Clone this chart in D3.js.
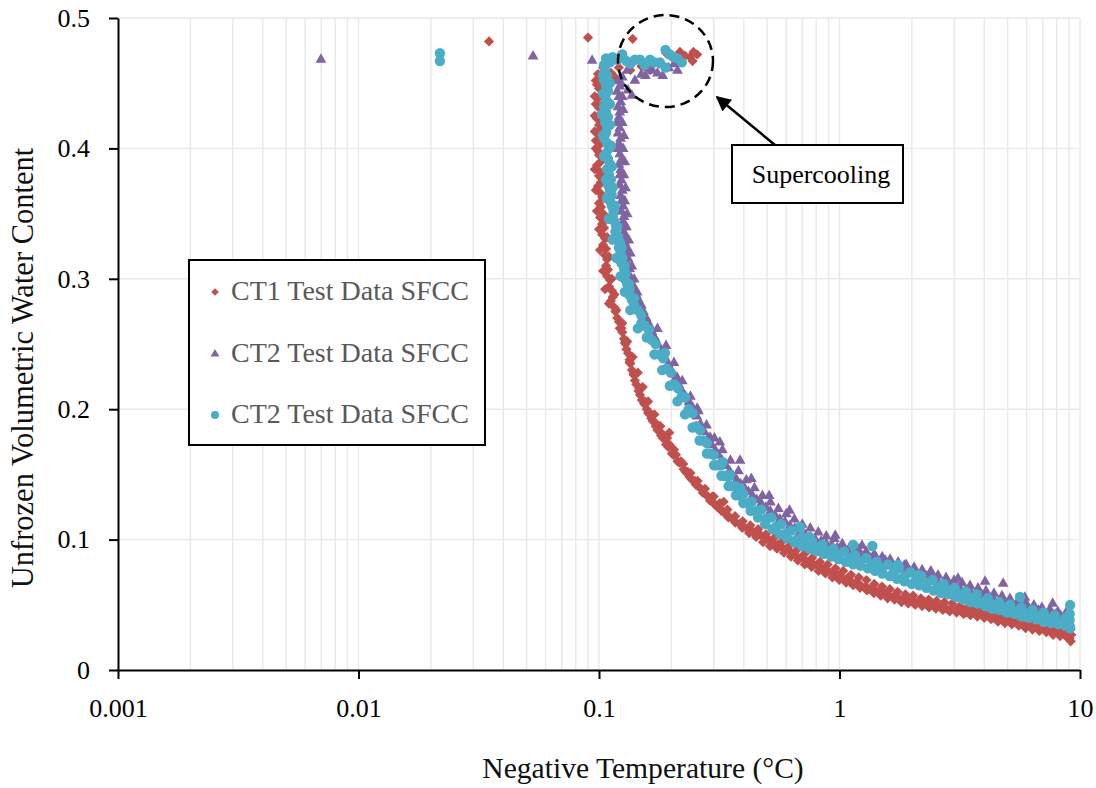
<!DOCTYPE html>
<html><head><meta charset="utf-8">
<script src="https://cdn.jsdelivr.net/npm/d3@7"></script>
<style>
html,body{margin:0;padding:0;background:#fff;}
svg{display:block;font-family:"Liberation Serif","Times New Roman",serif;}
</style></head><body><svg id="chart" width="1096" height="788"></svg>
<script>
// Soil freezing characteristic curves: [negative temperature (°C), unfrozen volumetric water content]
const ct1Data = [
  [0.0349,0.482],[0.0900,0.485],[0.138,0.484],
  [0.190,0.473],[0.217,0.474],[0.239,0.470],[0.256,0.472],[0.245,0.467],[0.228,0.471],[0.247,0.474],[0.205,0.469],
  [0.104,0.462],[0.112,0.458],[0.121,0.462],[0.135,0.460],[0.150,0.463],[0.163,0.460],[0.178,0.465],[0.116,0.455],
  [0.099,0.457],[0.101,0.453],[0.098,0.449],[0.100,0.446],[0.102,0.441],[0.099,0.438],[0.097,0.434],[0.100,0.431],
  [0.101,0.426],[0.098,0.423],[0.100,0.418],[0.102,0.415],[0.099,0.411],[0.097,0.406],[0.101,0.403],[0.099,0.398],
  [0.100,0.395],[0.102,0.390],[0.098,0.387],[0.101,0.382],[0.100,0.379],[0.102,0.374],[0.099,0.371],[0.101,0.366],
  [0.103,0.363],[0.100,0.358],[0.102,0.355],[0.104,0.350],[0.101,0.347],[0.103,0.342],[0.105,0.339],[0.103,0.334],
  [0.106,0.331],[0.104,0.326],[0.107,0.323],[0.106,0.318],[0.108,0.315],[0.107,0.310],[0.109,0.307],[0.108,0.302],
  [0.111,0.299],[0.110,0.294],[0.113,0.291],[0.114,0.286],[0.112,0.283],[0.116,0.278],[0.117,0.275],[0.119,0.270],
  [0.121,0.267],[0.122,0.262],[0.125,0.259],[0.127,0.254],[0.128,0.251],[0.130,0.246],[0.132,0.243],[0.134,0.238],
  [0.135,0.235],[0.137,0.230],[0.139,0.227],[0.141,0.222],[0.143,0.219],[0.146,0.214],[0.148,0.211],[0.151,0.207],
  [0.154,0.204],[0.158,0.200],[0.160,0.197],[0.165,0.193],[0.167,0.191],[0.172,0.187],[0.175,0.184],[0.181,0.180],
  [0.184,0.178],[0.190,0.173],[0.194,0.171],[0.201,0.166],[0.204,0.165],[0.212,0.160],[0.216,0.159],[0.225,0.154],
  [0.229,0.152],[0.238,0.148],[0.243,0.146],[0.253,0.142],[0.258,0.141],[0.270,0.136],[0.276,0.135],[0.289,0.130],
  [0.296,0.129],[0.310,0.125],[0.318,0.124],[0.334,0.120],[0.342,0.119],[0.359,0.116],[0.368,0.114],[0.385,0.112],
  [0.398,0.110],[0.414,0.108],[0.431,0.107],[0.448,0.104],[0.467,0.104],[0.487,0.101],[0.506,0.100],[0.530,0.097],
  [0.552,0.096],[0.578,0.094],[0.601,0.092],[0.630,0.090],[0.655,0.088],[0.688,0.086],[0.716,0.085],[0.750,0.082],
  [0.783,0.081],[0.821,0.079],[0.857,0.078],[0.897,0.076],[0.936,0.074],[0.981,0.073],[1.025,0.071],[1.074,0.070],
  [1.120,0.068],[1.176,0.067],[1.224,0.065],[1.289,0.064],[1.340,0.062],[1.409,0.061],[1.470,0.060],[1.541,0.059],
  [1.612,0.057],[1.690,0.057],[1.764,0.055],[1.852,0.055],[1.933,0.053],[2.030,0.053],[2.118,0.052],[2.220,0.052],
  [2.321,0.050],[2.434,0.050],[2.540,0.049],[2.668,0.049],[2.786,0.047],[2.922,0.047],[3.052,0.046],[3.204,0.046],
  [3.348,0.044],[3.512,0.044],[3.665,0.043],[3.850,0.043],[4.017,0.042],[4.215,0.042],[4.398,0.040],[4.610,0.040],
  [4.816,0.038],[5.044,0.038],[5.270,0.037],[5.522,0.036],[5.764,0.035],[6.047,0.035],[6.312,0.033],[6.618,0.033],
  [6.910,0.032],[7.228,0.031],[7.553,0.030],[7.885,0.030],[8.244,0.028],[8.610,0.028],[8.960,0.026],[9.12,0.031],
  [9.05,0.024],[9.20,0.027],[9.08,0.033],[9.15,0.022],
  [0.196,0.182],[0.300,0.133],[0.330,0.129],[0.151,0.207],
  [0.097,0.452],[0.103,0.447],[0.096,0.440],[0.103,0.433],[0.096,0.425],[0.103,0.420],[0.096,0.413],[0.103,0.408],
  [0.097,0.400],[0.104,0.393],[0.096,0.384],[0.104,0.378],[0.097,0.368],[0.105,0.362],[0.098,0.352],[0.106,0.346],
  [0.100,0.338],[0.108,0.332],[0.101,0.322],[0.110,0.317],[0.104,0.306],[0.113,0.300],[0.106,0.292],[0.116,0.288],
  [0.110,0.281],
  [0.125,0.266],[0.131,0.252],[0.138,0.240],[0.145,0.228],[0.152,0.217],[0.160,0.206],[0.170,0.196],[0.180,0.187],
  [0.192,0.178],[0.205,0.169],[0.219,0.160],[0.234,0.152],[0.250,0.145],[0.266,0.139],[0.284,0.133],[0.303,0.127],
  [0.323,0.122],[0.345,0.117],[0.369,0.113],[0.394,0.109],[0.421,0.105],[0.450,0.102],[0.481,0.098],[0.514,0.095],
  [0.550,0.093],[0.588,0.090],[0.628,0.087],[0.671,0.084],[0.717,0.081],[0.766,0.079],[0.818,0.076],[0.874,0.074],
  [0.934,0.071],[0.998,0.069],[1.066,0.067],[1.139,0.065],[1.217,0.063],[1.300,0.061],[1.389,0.059],[1.484,0.057],
  [1.585,0.055],[1.693,0.054],[1.809,0.052],[1.932,0.051],[2.064,0.050],[2.205,0.049],[2.356,0.048],[2.517,0.047],
  [2.689,0.046],[2.872,0.045],[3.068,0.044],[3.278,0.043],[3.502,0.042],[3.741,0.041],[3.996,0.040],[4.269,0.039],
  [4.560,0.037],[4.872,0.036],[5.204,0.035],[5.560,0.034],[5.939,0.032],[6.345,0.031],[6.778,0.030],[7.241,0.029],
  [7.735,0.027],[8.263,0.026],[8.827,0.025],
  [0.118,0.276],[0.124,0.262],[0.129,0.250],[0.134,0.236],[0.140,0.226],[0.147,0.216],[0.155,0.206],[0.163,0.197],
  [0.173,0.189],[0.184,0.181],[0.196,0.173],[0.209,0.165],[0.224,0.158],[0.240,0.151],[0.257,0.145],[0.276,0.139],
  [0.296,0.133],[0.318,0.128],[0.342,0.123],[0.368,0.118],[0.396,0.114],[0.426,0.111],[0.459,0.108],[0.494,0.104],
  [0.532,0.101],[0.573,0.098],[0.617,0.095],[0.664,0.092],[0.715,0.089],[0.770,0.086],[0.829,0.083],[0.893,0.081],
  [0.962,0.078],[1.036,0.076],[1.116,0.073],[1.202,0.071],[1.295,0.069],[1.395,0.066],[1.503,0.064],[1.619,0.062],
  [1.744,0.060],[1.879,0.058],[2.024,0.057],[2.180,0.055],[2.349,0.054],[2.530,0.053],[2.726,0.052],[2.936,0.051],
  [3.163,0.049],[3.407,0.048],[3.671,0.047],[3.954,0.046],[4.260,0.045],[4.589,0.044],[4.944,0.042],[5.326,0.041],
  [5.737,0.040],[6.181,0.038],[6.658,0.037],[7.173,0.036],[7.727,0.034],[8.324,0.033],[8.967,0.031]
];

const ct2TriData = [
  [0.00698,0.4686],[0.0532,0.471],[0.0936,0.4678],
  [0.125,0.455],[0.131,0.460],[0.141,0.4525],[0.150,0.457],[0.156,0.456],[0.160,0.462],[0.167,0.460],[0.175,0.458],
  [0.184,0.456],[0.195,0.462],[0.205,0.465],[0.212,0.460],[0.132,0.445],[0.137,0.441],
  [0.120,0.452],[0.122,0.448],[0.119,0.444],[0.121,0.440],[0.123,0.436],[0.120,0.432],[0.122,0.428],[0.121,0.424],
  [0.119,0.420],[0.122,0.416],[0.120,0.412],[0.123,0.408],[0.121,0.404],[0.120,0.400],[0.122,0.396],[0.124,0.392],
  [0.121,0.388],[0.123,0.384],[0.122,0.380],[0.124,0.376],[0.122,0.372],[0.125,0.368],[0.123,0.364],[0.124,0.360],
  [0.126,0.356],[0.124,0.352],[0.127,0.348],[0.126,0.344],[0.128,0.340],[0.127,0.336],[0.129,0.332],[0.128,0.328],
  [0.131,0.324],[0.130,0.320],[0.132,0.316],[0.131,0.312],[0.134,0.308],[0.133,0.304],[0.136,0.300],[0.138,0.296],
  [0.140,0.292],[0.143,0.288],[0.146,0.284],[0.149,0.280],[0.153,0.275],[0.157,0.270],[0.162,0.265],[0.166,0.260],
  [0.171,0.255],[0.176,0.250],[0.182,0.245],[0.188,0.240],[0.194,0.235],[0.201,0.229],[0.208,0.224],[0.215,0.219],
  [0.222,0.214],[0.229,0.210],[0.237,0.206],[0.246,0.201],[0.255,0.195],[0.264,0.189],[0.274,0.183],[0.284,0.178],
  [0.294,0.173],[0.304,0.169],[0.314,0.165],[0.325,0.161],[0.337,0.157],[0.349,0.153],[0.361,0.149],[0.374,0.146],
  [0.388,0.143],[0.403,0.140],[0.418,0.137],[0.435,0.134],[0.453,0.131],[0.473,0.128],[0.494,0.125],[0.516,0.122],
  [0.540,0.119],[0.565,0.116],[0.593,0.114],[0.622,0.111],[0.652,0.109],[0.685,0.106],[0.720,0.104],[0.757,0.102],
  [0.796,0.100],[0.838,0.099],[0.882,0.097],[0.929,0.096],[0.979,0.094],[1.03,0.093],[1.09,0.091],[1.15,0.090],
  [1.21,0.089],[1.28,0.087],[1.35,0.086],[1.42,0.085],[1.50,0.083],[1.58,0.082],[1.67,0.080],[1.76,0.079],
  [1.86,0.077],[1.96,0.076],[2.07,0.074],[2.18,0.073],[2.30,0.072],[2.43,0.070],[2.56,0.069],[2.70,0.067],
  [2.85,0.066],[3.00,0.064],[3.17,0.063],[3.34,0.061],[3.52,0.060],[3.72,0.059],[3.92,0.057],[4.14,0.056],
  [4.37,0.055],[4.61,0.053],[4.86,0.052],[5.13,0.051],[5.41,0.050],[5.71,0.049],[6.02,0.048],[6.36,0.047],
  [6.71,0.046],[7.08,0.045],[7.47,0.044],[7.88,0.043],[8.31,0.042],[8.77,0.041],[9.05,0.040],[9.08,0.036],
  [0.211,0.2247],[0.256,0.2009],[0.290,0.1787],[0.318,0.175],[0.386,0.161],[0.430,0.147],[0.510,0.134],[0.620,0.1227],
  [0.960,0.1035],[1.24,0.0959],[1.42,0.0867],[1.55,0.0844],[1.86,0.0805],[3.11,0.0706],[4.03,0.0683],[4.79,0.0667],
  [7.70,0.0514],[2.40,0.0760],[5.90,0.0560],
  [0.124,0.450],[0.125,0.440],[0.126,0.430],[0.125,0.420],[0.127,0.410],[0.126,0.400],[0.128,0.390],[0.127,0.380],
  [0.129,0.370],[0.128,0.360],[0.131,0.350],[0.130,0.340],[0.133,0.330],[0.135,0.320],[0.137,0.310],[0.140,0.300],
  [0.144,0.290],[0.150,0.280],[0.157,0.270],
  [0.175,0.262],[0.190,0.249],[0.205,0.236],[0.222,0.222],[0.240,0.210],[0.259,0.199],[0.280,0.188],[0.302,0.178],
  [0.326,0.169],[0.352,0.161],[0.380,0.153],[0.410,0.146],[0.443,0.140],[0.478,0.134],[0.516,0.129],[0.557,0.124],
  [0.601,0.120],[0.649,0.116],[0.700,0.112],[0.756,0.109],[0.816,0.106],[0.881,0.103],[0.951,0.101],[1.027,0.097],
  [1.108,0.095],[1.196,0.093],[1.291,0.091],[1.394,0.089],[1.505,0.087],[1.624,0.085],[1.753,0.083],[1.893,0.081],
  [2.043,0.079],[2.205,0.077],[2.380,0.075],[2.569,0.073],[2.774,0.071],[2.994,0.069],[3.232,0.067],[3.489,0.065],
  [3.766,0.063],[4.065,0.061],[4.388,0.059],[4.737,0.057],[5.113,0.055],[5.519,0.053],[5.958,0.052],[6.431,0.050],
  [6.942,0.048],[7.493,0.047],[8.089,0.045],[8.731,0.044]
];

const ct2CircData = [
  [0.0218,0.473],[0.0218,0.467],
  [0.105,0.464],[0.107,0.469],[0.111,0.466],[0.114,0.470],[0.119,0.468],[0.125,0.472],[0.130,0.467],[0.135,0.465],
  [0.141,0.468],[0.148,0.468],[0.155,0.464],[0.163,0.468],[0.170,0.466],[0.179,0.466],[0.189,0.4755],[0.197,0.472],
  [0.204,0.470],[0.212,0.469],[0.221,0.466],[0.189,0.462],
  [0.106,0.460],[0.108,0.456],[0.105,0.452],[0.107,0.448],[0.109,0.444],[0.106,0.440],[0.108,0.436],[0.105,0.432],
  [0.107,0.428],[0.109,0.424],[0.106,0.420],[0.108,0.416],[0.107,0.412],[0.105,0.408],[0.108,0.404],[0.110,0.400],
  [0.107,0.396],[0.109,0.392],[0.111,0.388],[0.108,0.384],[0.110,0.380],[0.112,0.376],[0.109,0.372],[0.111,0.368],
  [0.113,0.364],[0.111,0.360],[0.113,0.356],[0.115,0.352],[0.114,0.348],[0.116,0.344],[0.118,0.340],[0.117,0.336],
  [0.120,0.332],[0.122,0.328],[0.121,0.324],[0.123,0.320],[0.125,0.316],[0.124,0.312],[0.127,0.308],[0.129,0.304],
  [0.128,0.300],[0.131,0.296],[0.134,0.292],[0.133,0.288],[0.137,0.284],
  [0.140,0.285],[0.145,0.276],[0.150,0.272],[0.155,0.264],[0.161,0.261],[0.166,0.253],[0.172,0.250],[0.178,0.242],
  [0.185,0.239],[0.191,0.231],[0.199,0.228],[0.206,0.219],[0.213,0.216],[0.221,0.210],[0.228,0.209],[0.236,0.200],
  [0.245,0.197],[0.254,0.187],[0.263,0.184],[0.272,0.176],[0.281,0.174],[0.290,0.166],[0.300,0.165],[0.311,0.157],
  [0.322,0.157],[0.334,0.149],[0.345,0.148],[0.357,0.141],[0.370,0.141],[0.384,0.134],[0.398,0.135],[0.414,0.128],
  [0.432,0.129],[0.452,0.122],[0.473,0.123],[0.496,0.116],[0.520,0.117],[0.545,0.110],[0.572,0.112],[0.600,0.105],
  [0.630,0.107],[0.662,0.100],[0.695,0.102],[0.730,0.097],[0.768,0.099],[0.808,0.094],[0.850,0.096],[0.895,0.091],
  [0.943,0.093],[0.993,0.088],[1.045,0.091],[1.10,0.086],[1.16,0.088],[1.22,0.083],[1.29,0.086],[1.36,0.081],
  [1.43,0.083],[1.51,0.078],[1.59,0.081],[1.68,0.075],[1.77,0.078],[1.87,0.072],[1.97,0.075],[2.08,0.069],
  [2.19,0.072],[2.31,0.067],[2.44,0.069],[2.57,0.064],[2.71,0.066],[2.86,0.061],[3.01,0.063],[3.18,0.058],
  [3.35,0.060],[3.53,0.055],[3.72,0.058],[3.93,0.052],[4.14,0.055],[4.37,0.050],[4.61,0.052],[4.86,0.047],
  [5.12,0.050],[5.40,0.045],[5.70,0.048],[6.01,0.043],[6.34,0.046],[6.69,0.041],[7.05,0.044],[7.44,0.039],
  [7.85,0.042],[8.28,0.037],[8.73,0.040],[9.02,0.035],[9.06,0.043],[9.10,0.032],[9.04,0.039],
  [0.188,0.2431],[0.326,0.1595],[0.350,0.1495],[0.386,0.1396],[0.685,0.1097],[0.750,0.102],[1.14,0.0959],[1.37,0.0951],
  [1.75,0.0805],[2.13,0.0729],[5.63,0.056],[9.10,0.0498],
  [0.104,0.456],[0.111,0.450],[0.104,0.442],[0.111,0.434],[0.103,0.426],[0.111,0.418],[0.104,0.410],[0.112,0.402],
  [0.105,0.394],[0.113,0.386],[0.107,0.376],[0.114,0.370],[0.108,0.362],[0.116,0.356],[0.110,0.346],[0.119,0.340],
  [0.114,0.330],[0.124,0.324],[0.118,0.316],[0.128,0.310],[0.123,0.302],[0.133,0.296],[0.128,0.290],[0.140,0.280],
  [0.135,0.276],[0.150,0.266],[0.145,0.262],
  [0.158,0.255],[0.170,0.242],[0.183,0.230],[0.197,0.218],[0.212,0.206],[0.228,0.196],[0.245,0.186],[0.262,0.176],
  [0.281,0.166],[0.301,0.157],[0.323,0.149],[0.346,0.141],[0.371,0.134],[0.398,0.128],[0.427,0.122],[0.458,0.117],
  [0.491,0.112],[0.527,0.108],[0.565,0.104],[0.606,0.101],[0.650,0.098],[0.697,0.095],[0.748,0.093],[0.802,0.091],
  [0.860,0.089],[0.923,0.087],[0.990,0.085],[1.062,0.083],[1.139,0.081],[1.222,0.080],[1.311,0.078],[1.406,0.076],
  [1.508,0.074],[1.618,0.072],[1.735,0.070],[1.862,0.068],[1.997,0.066],[2.142,0.065],[2.298,0.063],[2.465,0.061],
  [2.645,0.059],[2.837,0.058],[3.043,0.056],[3.265,0.054],[3.502,0.052],[3.757,0.051],[4.030,0.049],[4.323,0.047],
  [4.638,0.046],[4.975,0.044],[5.337,0.043],[5.726,0.041],[6.142,0.040],[6.589,0.039],[7.069,0.037],[7.583,0.036],
  [8.135,0.035],[8.727,0.034]
];

const seriesNames = ["CT1 Test Data SFCC", "CT2 Test Data SFCC", "CT2 Test Data SFCC"];
const seriesColors = ["#C0504D", "#8064A2", "#4BACC6"];
const xTickValues = [0.001, 0.01, 0.1, 1, 10];
const xTickLabels = ["0.001", "0.01", "0.1", "1", "10"];
const yTickValues = [0, 0.1, 0.2, 0.3, 0.4, 0.5];
const yTickLabels = ["0", "0.1", "0.2", "0.3", "0.4", "0.5"];
const xTitle = "Negative Temperature (°C)";
const yTitle = "Unfrozen Volumetric Water Content";
const noteText = "Supercooling";

const W = 1096, H = 788;
const margin = {top: 18, right: 16, bottom: 118, left: 118};
const x = d3.scaleLog().domain([0.001, 10]).range([margin.left, W - margin.right]);
const y = d3.scaleLinear().domain([0, 0.5]).range([H - margin.bottom, margin.top]);

const svg = d3.select("#chart");

// grid
const grid = svg.append("g").attr("stroke", "#e9e9e9").attr("stroke-width", 1.4);
grid.selectAll("line.v").data(x.ticks().filter(d => d > 0.001)).join("line")
  .attr("x1", d => x(d)).attr("x2", d => x(d))
  .attr("y1", y(0)).attr("y2", y(0.5));
grid.selectAll("line.h").data(yTickValues.filter(d => d > 0)).join("line")
  .attr("x1", x(0.001)).attr("x2", x(10))
  .attr("y1", d => y(d)).attr("y2", d => y(d));

// marker shapes
const shapes = [
  "M0,-5.1L5.1,0L0,5.1L-5.1,0Z",
  "M0,-5.8L5.4,3.7L-5.4,3.7Z",
  d3.symbol(d3.symbolCircle, Math.PI * 27)()
];
const legendShapes = [
  "M0,-3.8L3.8,0L0,3.8L-3.8,0Z",
  "M0,-4.6L4.4,3L-4.4,3Z",
  d3.symbol(d3.symbolCircle, Math.PI * 16)()
];

const allSeries = [ct1Data, ct2TriData, ct2CircData];
allSeries.forEach((data, i) => {
  svg.append("g").selectAll("path").data(data).join("path")
    .attr("d", shapes[i])
    .attr("fill", seriesColors[i])
    .attr("transform", d => `translate(${x(d[0])},${y(d[1])})`);
});

// axes
const xAxis = d3.axisBottom(x).tickValues(xTickValues)
  .tickFormat((d, i) => xTickLabels[i]).tickSize(9).tickSizeOuter(0).tickPadding(20);
const yAxis = d3.axisLeft(y).tickValues(yTickValues)
  .tickFormat((d, i) => yTickLabels[i]).tickSize(9).tickSizeOuter(0).tickPadding(19);

const gx = svg.append("g").attr("transform", `translate(0,${y(0)})`).call(xAxis);
const gy = svg.append("g").attr("transform", `translate(${x(0.001)},0)`).call(yAxis);
[gx, gy].forEach(g => {
  g.select(".domain").attr("stroke", "#000").attr("stroke-width", 2);
  g.selectAll(".tick line").attr("stroke", "#000").attr("stroke-width", 2);
  g.selectAll(".tick text").attr("fill", "#000")
    .style("font-family", '"Liberation Serif", serif').style("font-size", "26px");
});

// axis titles
svg.append("text").attr("x", 643).attr("y", 778).attr("text-anchor", "middle")
  .style("font-size", "29.6px").attr("fill", "#111").text(xTitle);
svg.append("text").attr("transform", "translate(33,368) rotate(-90)")
  .attr("text-anchor", "middle").style("font-size", "30.5px").attr("fill", "#111").text(yTitle);

// legend
const lg = svg.append("g");
lg.append("rect").attr("x", 189).attr("y", 260).attr("width", 296).attr("height", 185)
  .attr("fill", "#fff").attr("stroke", "#000").attr("stroke-width", 2);
seriesNames.forEach((name, i) => {
  const cy = 292 + i * 61.5;
  lg.append("path").attr("d", legendShapes[i]).attr("fill", seriesColors[i])
    .attr("transform", `translate(215,${cy})`);
  lg.append("text").attr("x", 231).attr("y", cy + 8).style("font-size", "28px")
    .attr("fill", "#595959").text(name);
});

// supercooling annotation
const ringCenter = [0.189, 0.467];
const arrowFrom = [0.539, 0.4026];
const arrowTo = [0.309, 0.4394];
svg.append("ellipse").attr("cx", x(ringCenter[0])).attr("cy", y(ringCenter[1]))
  .attr("rx", 47.5).attr("ry", 46).attr("fill", "none").attr("stroke", "#000")
  .attr("stroke-width", 2.5).attr("stroke-dasharray", "10,6");

svg.append("defs").append("marker").attr("id", "arrowhead")
  .attr("viewBox", "0 0 10 10").attr("refX", 9).attr("refY", 5)
  .attr("markerWidth", 7).attr("markerHeight", 6).attr("markerUnits", "strokeWidth")
  .attr("orient", "auto")
  .append("path").attr("d", "M0,0L10,5L0,10Z").attr("fill", "#000");
svg.append("line")
  .attr("x1", x(arrowFrom[0])).attr("y1", y(arrowFrom[1]))
  .attr("x2", x(arrowTo[0])).attr("y2", y(arrowTo[1]))
  .attr("stroke", "#000").attr("stroke-width", 2.5).attr("marker-end", "url(#arrowhead)");

svg.append("rect").attr("x", 732).attr("y", 145).attr("width", 171).attr("height", 58)
  .attr("fill", "#fff").attr("stroke", "#000").attr("stroke-width", 2);
svg.append("text").attr("x", 821).attr("y", 183).attr("text-anchor", "middle")
  .style("font-size", "26px").attr("fill", "#000").text(noteText);
</script></body></html>
